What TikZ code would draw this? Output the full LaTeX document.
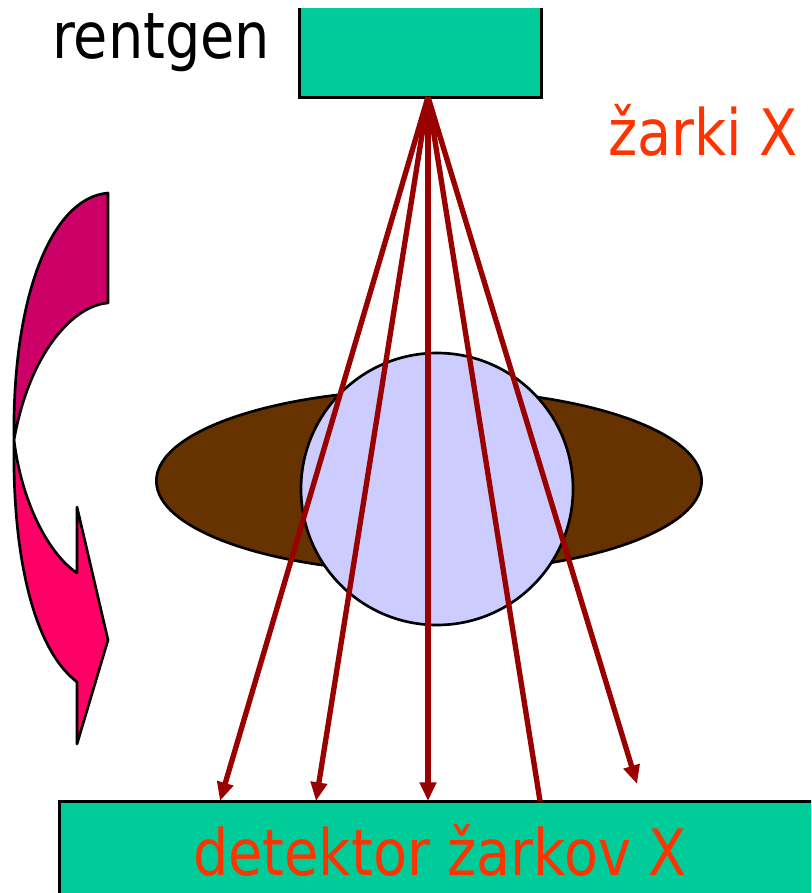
\documentclass[tikz,border=0pt]{standalone}
\usepackage{fontspec}
\newfontfamily\slidefont[FakeStretch=0.87]{DejaVu Sans}
\usetikzlibrary{arrows.meta}
\usetikzlibrary{shapes.geometric}
\definecolor{boxgreen}{HTML}{00CC99}
\definecolor{bodybrown}{HTML}{663300}
\definecolor{organblue}{HTML}{CCCCFF}
\definecolor{beamred}{HTML}{990000}
\definecolor{labelred}{HTML}{FF3300}
\definecolor{turnback}{HTML}{CC0066}
\definecolor{turnfront}{HTML}{FF0066}

\begin{document}
\begin{tikzpicture}[
		x=0.75pt, y=-0.75pt,
		box/.style = {rectangle, fill=boxgreen, inner sep=0pt},
		beam/.style = {draw=beamred, line width=4pt},
		beamtip/.style = {beam, -{Triangle[length=14pt, width=12pt]}},
		lbl/.style = {font=\slidefont\fontsize{48}{48}\selectfont, inner sep=0pt},
		]
		\clip (0,0) rectangle (811,893);
		
		% === === Nodes === ===
		\node[ellipse, draw, fill=bodybrown, line width=2pt,
			minimum width=409pt, minimum height=137pt] (body) at (429, 481) {};
		\node[circle, draw, fill=organblue, line width=2pt,
			minimum size=204pt] (organ) at (437, 489) {};
		\node[box, minimum width=180.75pt, minimum height=66.75pt] (src) at (420.5, 52.5) {};
		\node[box, minimum width=577.5pt, minimum height=81pt] (det) at (445, 856) {};
		\draw[line width=2.2pt] (src.north west) -- (src.south west) -- (src.south east) -- (src.north east);
		\draw[line width=2.2pt] (det.south west) -- (det.north west) -- (det.north east);
		
		\node[lbl, anchor=base west]				(srclbl)	at (52, 58)		{rentgen};
		\node[lbl, anchor=base west, text=labelred]	(beamlbl)	at (608, 155)	{žarki X};
		\node[lbl, anchor=base west, text=labelred]	(detlbl)	at (193, 875)	{detektor žarkov X};
		
		% === === Turning arrow === ===
		\filldraw[fill=turnback, line width=2pt, line join=round]
			(108, 193) -- (108, 303) .. controls (75, 305) and (30, 350) .. (14, 440)
			.. controls (12, 300) and (50, 198) .. (108, 193) -- cycle;
		\filldraw[fill=turnfront, line width=2pt, line join=round]
			(14, 440) .. controls (12, 560) and (35, 650) .. (77, 682)
			-- (77, 744) -- (108, 640) -- (77, 507) -- (77, 573)
			.. controls (50, 555) and (22, 505) .. (14, 440) -- cycle;
		
		% === === Lines === ===
		\coordinate (focus) at (428, 97);
		\coordinate (hit1) at (220, 801);
		\coordinate (hit2) at (316, 801);
		\coordinate (hit3) at (428, 801);
		\coordinate (hit4) at (540, 801);
		\coordinate (hit5) at (637, 784);
		\draw[beamtip]	(focus) -- (hit1);
		\draw[beamtip]	(focus) -- (hit2);
		\draw[beamtip]	(focus) -- (hit3);
		\draw[beam]		(focus) -- (hit4);
		\draw[beamtip]	(focus) -- (hit5);
		
	\end{tikzpicture}
\end{document}
